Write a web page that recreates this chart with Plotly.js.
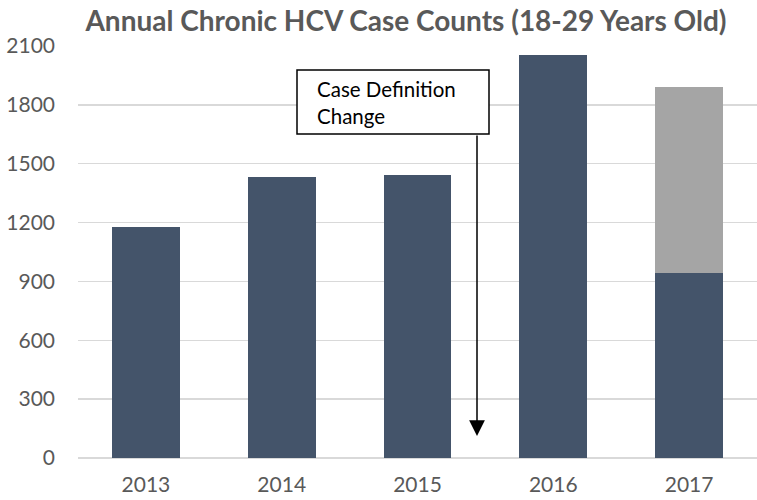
<!DOCTYPE html>
<html><head><meta charset="utf-8">
<script src="https://cdn.plot.ly/plotly-3.0.1.min.js"></script>
<style>body{margin:0;padding:0;background:#fff}#chart{width:757px;height:500px}</style>
</head><body><div id="chart"></div>
<script>
var years = ['2013','2014','2015','2016','2017'];
var baseCounts = [1180, 1434, 1441, 2056, 942];
var extraCounts = [0, 0, 0, 0, 947];
var yTicks = [0, 300, 600, 900, 1200, 1500, 1800, 2100];

var traces = [
  {type:'bar', x:years, y:baseCounts, marker:{color:'#44546A'}, hoverinfo:'x+y'},
  {type:'bar', x:years, y:extraCounts, marker:{color:'#A5A5A5'}, hoverinfo:'x+y'}
];
var fontFam = 'Lato, "Open Sans", sans-serif';
var W = 679, H = 412, L = 78, B = 458;
function px(x){ return (x - L) / W; }
function py(y){ return (B - y) / H; }
var layout = {
  width:757, height:500,
  barmode:'stack', bargap:0.5, showlegend:false,
  margin:{l:78, r:0, t:46, b:42},
  paper_bgcolor:'#fff', plot_bgcolor:'#fff',
  font:{family:fontFam, color:'#595959', size:21},
  title:{text:'<b>Annual Chronic HCV Case Counts (18-29 Years Old)</b>', font:{family:fontFam, size:28, color:'#595959'}, x:406/757, xanchor:'center', xref:'container', y:1-21/500, yanchor:'middle', yref:'container'},
  xaxis:{type:'category', showgrid:false, showline:false, ticks:'', tickfont:{size:21}, ticklabelstandoff:12},
  yaxis:{range:[0,2100], tickvals:yTicks, ticktext:yTicks.map(String), showgrid:true, gridcolor:'#D9D9D9', gridwidth:1.5, zeroline:true, zerolinecolor:'#D9D9D9', zerolinewidth:1.5, showline:false, ticks:'', tickfont:{size:21}, ticklabelstandoff:22},
  shapes:[
    {type:'rect', xref:'paper', yref:'paper', x0:px(297), x1:px(489), y0:py(134), y1:py(70), line:{color:'#000', width:1.5}, fillcolor:'#fff', layer:'above'}
  ],
  annotations:[
    {xref:'paper', yref:'paper', x:px(315), y:py(102), xanchor:'left', yanchor:'middle', text:'Case Definition<br>Change', align:'left', showarrow:false, font:{family:fontFam, size:20.5, color:'#000'}},
    {xref:'paper', yref:'paper', x:px(477), y:py(436), ax:px(477), ay:py(134), axref:'paper', ayref:'paper', text:'', showarrow:true, arrowhead:2, arrowsize:2.1, arrowwidth:1.5, arrowcolor:'#000'}
  ]
};
Plotly.newPlot('chart', traces, layout, {displayModeBar:false, staticPlot:true});
</script></body></html>
